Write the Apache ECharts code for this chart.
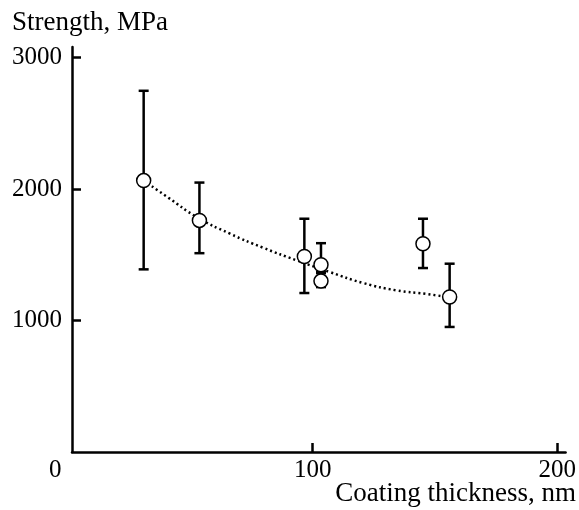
<!DOCTYPE html>
<html>
<head>
<meta charset="utf-8">
<script src="https://cdn.jsdelivr.net/npm/echarts@6/dist/echarts.min.js"></script>
<style>
  html, body { margin: 0; padding: 0; background: #fff; }
  #main { width: 579px; height: 510px; }
</style>
</head>
<body>
<div id="main"></div>
<script>
// measured points (thickness nm, strength MPa) with error bar ends
var thickness = [30.9, 53.7, 96.6, 103.4, 103.4, 145.1, 156.0];
var strength  = [2064, 1761, 1487, 1424, 1300, 1584, 1179];
var errLow    = [1389, 1512, 1209, 1360, 1254, 1399, 951];
var errHigh   = [2747, 2049, 1774, 1588, 1370, 1774, 1432];

// dotted fit curve
var fitX = [30.9, 41.0, 52.7, 66.2, 79.8, 93.5, 107.1, 120.7, 134.3, 146.2, 156.0];
var fitY = [2064, 1934, 1786, 1660, 1553, 1457, 1368, 1285, 1229, 1203, 1176];

var xTicks = [100, 200];
var yTicks = [1000, 2000, 3000];

var serif = 'Liberation Serif';

var points = thickness.map(function (x, i) { return [x, strength[i]]; });
var bars = thickness.map(function (x, i) { return [x, errLow[i], errHigh[i]]; });
var fit = fitX.map(function (x, i) { return [x, fitY[i]]; });

var myChart = echarts.init(document.getElementById('main'), null, {renderer: 'canvas'});

var option = {
    backgroundColor: '#fff',
    animation: false,
    grid: {left: 72, right: 13, top: 47, bottom: 58},
    xAxis: {
        type: 'value',
        min: 1.6,
        max: 203.4,
        splitLine: {show: false},
        axisLine: {lineStyle: {color: '#000', width: 2.5}},
        axisTick: {inside: true, length: 9, customValues: xTicks, lineStyle: {color: '#000', width: 2.5}},
        axisLabel: {customValues: xTicks, color: '#000', fontFamily: serif, fontSize: 25, margin: 6,
            formatter: function (v) { return String(v); }}
    },
    yAxis: {
        type: 'value',
        min: 0,
        max: 3080,
        splitLine: {show: false},
        axisLine: {show: true, lineStyle: {color: '#000', width: 2.5}},
        axisTick: {show: true, inside: true, length: 9, customValues: yTicks, lineStyle: {color: '#000', width: 2.5}},
        axisLabel: {customValues: yTicks, color: '#000', fontFamily: serif, fontSize: 25, margin: 10,
            formatter: function (v) { return String(v); }}
    },
    graphic: [
        {type: 'text', left: 12, top: 9, style: {text: 'Strength, MPa', fill: '#000', font: '27px ' + serif}},
        {type: 'text', right: 3, top: 480, style: {text: 'Coating thickness, nm', fill: '#000', font: '27px ' + serif}},
        {type: 'text', left: 49, top: 458, style: {text: '0', fill: '#000', font: '25px ' + serif}}
    ],
    series: [
        {
            // 误差线
            type: 'custom',
            data: bars,
            z: 2,
            renderItem: function (params, api) {
                var lo = api.coord([api.value(0), api.value(1)]);
                var hi = api.coord([api.value(0), api.value(2)]);
                var w = 5;
                var st = {stroke: '#000', lineWidth: 2.5};
                return {
                    type: 'group',
                    children: [
                        {type: 'line', shape: {x1: lo[0], y1: lo[1], x2: hi[0], y2: hi[1]}, style: st},
                        {type: 'line', shape: {x1: lo[0] - w, y1: lo[1], x2: lo[0] + w, y2: lo[1]}, style: st},
                        {type: 'line', shape: {x1: hi[0] - w, y1: hi[1], x2: hi[0] + w, y2: hi[1]}, style: st}
                    ]
                };
            }
        },
        {
            type: 'line',
            data: fit,
            smooth: true,
            showSymbol: false,
            z: 3,
            lineStyle: {color: '#000', width: 2.5, type: [2, 3]}
        },
        {
            type: 'scatter',
            data: points,
            symbol: 'circle',
            symbolSize: 14,
            z: 4,
            itemStyle: {color: '#fff', borderColor: '#000', borderWidth: 1.5, opacity: 1}
        }
    ]
};
myChart.setOption(option);
</script>
</body>
</html>
